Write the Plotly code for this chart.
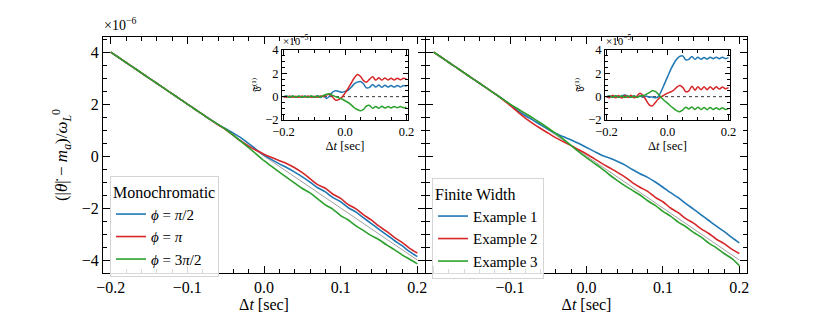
import plotly.graph_objects as go

# time grid (sec)
t = [round(-0.2 + 0.01 * i, 2) for i in range(41)]

# reference straight line
ref_t = [-0.2, 0.2]
ref_v = [4.0, -4.0]

# main panel values (x1e-6)
mono_blue = [4.0, 3.8, 3.6, 3.4, 3.2, 3.0, 2.8, 2.6, 2.4, 2.2, 2.0, 1.8, 1.6, 1.41, 1.22, 1.05, 0.88, 0.70, 0.48, 0.25,
             0.04, -0.14, -0.30, -0.45, -0.62, -0.80, -1.00, -1.22, -1.38, -1.60, -1.76, -1.99, -2.16, -2.38, -2.60,
             -2.82, -3.03, -3.25, -3.45, -3.68, -3.87]
mono_red = [4.0, 3.8, 3.6, 3.4, 3.2, 3.0, 2.8, 2.6, 2.4, 2.2, 2.0, 1.8, 1.6, 1.4, 1.2, 1.02, 0.80, 0.57, 0.38, 0.22,
            0.07, -0.06, -0.18, -0.30, -0.45, -0.64, -0.87, -1.10, -1.24, -1.47, -1.63, -1.87, -2.03, -2.26, -2.46,
            -2.70, -2.90, -3.13, -3.32, -3.55, -3.73]
mono_green = [4.0, 3.8, 3.6, 3.4, 3.2, 3.0, 2.8, 2.6, 2.4, 2.2, 2.0, 1.8, 1.6, 1.4, 1.22, 1.03, 0.80, 0.56, 0.32, 0.07,
              -0.18, -0.40, -0.62, -0.83, -1.04, -1.25, -1.42, -1.65, -1.88, -2.05, -2.29, -2.46, -2.69, -2.87, -3.06,
              -3.22, -3.42, -3.60, -3.80, -3.97, -4.15]
fw_blue = [4.0, 3.8, 3.6, 3.4, 3.2, 3.0, 2.8, 2.6, 2.4, 2.2, 1.98, 1.75, 1.55, 1.38, 1.2, 1.03, 0.87, 0.74, 0.62, 0.48,
           0.33, 0.18, 0.03, -0.08, -0.20, -0.34, -0.52, -0.68, -0.82, -1.00, -1.20, -1.41, -1.60, -1.83, -2.04,
           -2.26, -2.48, -2.70, -2.90, -3.13, -3.34]
fw_red = [4.0, 3.8, 3.6, 3.4, 3.2, 3.0, 2.8, 2.6, 2.4, 2.18, 1.95, 1.70, 1.46, 1.25, 1.06, 0.88, 0.70, 0.55, 0.40, 0.24,
          0.08, -0.10, -0.28, -0.45, -0.62, -0.80, -1.02, -1.20, -1.36, -1.59, -1.76, -2.00, -2.18, -2.41, -2.58,
          -2.80, -2.98, -3.20, -3.37, -3.58, -3.75]
fw_green = [4.0, 3.8, 3.6, 3.4, 3.2, 3.0, 2.8, 2.6, 2.4, 2.2, 2.0, 1.82, 1.64, 1.46, 1.27, 1.07, 0.86, 0.64, 0.40, 0.16,
            -0.06, -0.27, -0.48, -0.72, -0.94, -1.14, -1.32, -1.50, -1.72, -1.90, -2.13, -2.31, -2.54, -2.72, -2.94,
            -3.12, -3.35, -3.53, -3.75, -3.94, -4.22]

# inset values F^(1)
mono_blue_F = [0.0, 0.05, -0.04, 0.06, -0.05, 0.04, -0.06, 0.05, -0.04, 0.06, -0.05, 0.08, -0.08, 0.1, -0.15, 0.05,
               0.4, 0.5, 0.45, 0.38, 0.45, 0.55, 0.8, 1.1, 1.25, 1.3, 1.1, 0.75, 0.8, 1.05, 0.82, 1.0, 0.8, 0.98,
               0.82, 0.96, 0.82, 0.96, 0.83, 0.95, 0.88]
mono_red_F = [0.0, -0.04, 0.05, -0.05, 0.04, -0.05, 0.05, -0.04, 0.05, -0.05, 0.04, -0.06, 0.06, 0.0, 0.15, 0.2,
              -0.05, -0.3, -0.25, -0.05, 0.3, 0.7, 1.15, 1.6, 1.9, 1.75, 1.38, 1.25, 1.5, 1.7, 1.42, 1.62, 1.42, 1.6,
              1.43, 1.58, 1.43, 1.58, 1.45, 1.57, 1.5]
mono_green_F = [0.0, 0.04, -0.05, 0.05, -0.04, 0.05, -0.05, 0.04, -0.05, 0.05, -0.04, 0.06, -0.03, 0.1, 0.2, 0.25,
                0.1, 0.0, -0.1, -0.2, -0.35, -0.5, -0.7, -0.95, -1.1, -1.2, -1.1, -0.8, -0.75, -1.0, -0.85, -1.0,
                -0.82, -0.98, -0.84, -0.97, -0.84, -0.96, -0.85, -0.95, -0.9]
fw_blue_F = [0.0, 0.06, -0.05, 0.07, -0.04, 0.08, 0.15, 0.05, -0.06, 0.07, -0.05, 0.06, -0.06, 0.05, -0.05, -0.02,
             -0.1, 0.0, 0.5, 1.1, 1.7, 2.3, 2.8, 3.2, 3.45, 3.5, 3.15, 3.2, 3.45, 3.2, 3.38, 3.2, 3.36, 3.22, 3.38,
             3.25, 3.38, 3.25, 3.38, 3.26, 3.35]
fw_red_F = [0.0, -0.1, 0.12, -0.1, 0.1, -0.12, 0.1, -0.08, 0.12, -0.1, 0.05, 0.3, 0.1, -0.3, -0.7, -0.8, -0.5, -0.2,
            0.0, 0.15, 0.3, 0.4, 0.55, 0.8, 0.95, 0.8, 0.42, 0.5, 0.9, 0.55, 0.85, 0.6, 0.85, 0.6, 0.85, 0.62, 0.85,
            0.65, 0.82, 0.68, 0.78]
fw_green_F = [0.0, 0.05, -0.06, 0.07, -0.05, 0.06, -0.07, 0.05, -0.06, 0.06, -0.05, 0.05, 0.1, 0.2, 0.35, 0.5, 0.45,
              0.2, -0.1, -0.35, -0.55, -0.8, -1.0, -1.2, -1.3, -1.15, -0.9, -1.05, -0.88, -1.1, -0.9, -1.1, -0.92,
              -1.12, -0.92, -1.1, -0.95, -1.1, -0.95, -1.1, -1.0]

mono_names = ["<i>ϕ</i> = <i>π</i>/2", "<i>ϕ</i> = <i>π</i>", "<i>ϕ</i> = 3<i>π</i>/2"]
fw_names = ["Example 1", "Example 2", "Example 3"]
colors = ["#1f77b4", "#d62728", "#2ca02c"]

main_ticks = [-0.2, -0.1, 0.0, 0.1, 0.2]
left_ticktext = ["−0.2", "−0.1", "0.0", "0.1", "0.2"]
right_ticktext = ["", "−0.1", "0.0", "0.1", "0.2"]

FONT = "Times New Roman"
W, H = 830, 312
OFF = 8  # page body margin offset


def px_x(p):
    return (p - OFF) / W


def px_y(p):
    return 1 - (p - OFF) / H


fig = go.Figure()

# reference lines
for xa, ya in [("x", "y"), ("x2", "y2")]:
    fig.add_trace(go.Scatter(x=ref_t, y=ref_v, mode="lines", line=dict(color="#888888", width=0.8),
                             xaxis=xa, yaxis=ya, showlegend=False, hoverinfo="skip"))

for vals, name, c in zip([mono_blue, mono_red, mono_green], mono_names, colors):
    fig.add_trace(go.Scatter(x=t, y=vals, mode="lines", name=name,
                             line=dict(color=c, width=1.6, shape="spline", smoothing=0.8),
                             xaxis="x", yaxis="y", legend="legend"))
for vals, name, c in zip([fw_blue, fw_red, fw_green], fw_names, colors):
    fig.add_trace(go.Scatter(x=t, y=vals, mode="lines", name=name,
                             line=dict(color=c, width=1.6, shape="spline", smoothing=0.8),
                             xaxis="x2", yaxis="y2", legend="legend2"))

# insets
for xa, ya in [("x3", "y3"), ("x4", "y4")]:
    fig.add_trace(go.Scatter(x=[-0.205, 0.205], y=[0, 0], mode="lines",
                             line=dict(color="black", width=0.8, dash="dot"),
                             xaxis=xa, yaxis=ya, showlegend=False, hoverinfo="skip"))
for vals, c in zip([mono_blue_F, mono_red_F, mono_green_F], colors):
    fig.add_trace(go.Scatter(x=t, y=vals, mode="lines", line=dict(color=c, width=1.5, shape="spline", smoothing=0.8),
                             xaxis="x3", yaxis="y3", showlegend=False))
for vals, c in zip([fw_blue_F, fw_red_F, fw_green_F], colors):
    fig.add_trace(go.Scatter(x=t, y=vals, mode="lines", line=dict(color=c, width=1.5, shape="spline", smoothing=0.8),
                             xaxis="x4", yaxis="y4", showlegend=False))

tickfont = dict(family=FONT, size=16, color="black")
itickfont = dict(family=FONT, size=12.5, color="black")

main_x = dict(range=[-0.21, 0.21], tickvals=main_ticks, automargin=False,
              ticks="inside", ticklen=7, tickwidth=1, tickcolor="black",
              minor=dict(dtick=0.02, tick0=0, ticks="inside", ticklen=3.5, tickcolor="black", tickwidth=0.8),
              showline=True, linecolor="black", linewidth=1.2, mirror="ticks", showgrid=False, zeroline=False,
              tickfont=tickfont,
              title=dict(text="Δ<i>t</i> [sec]", font=dict(family=FONT, size=16, color="black"), standoff=2))
main_y = dict(range=[-4.5, 4.58], tickvals=[-4, -2, 0, 2, 4], automargin=False,
              ticks="inside", ticklen=7, tickwidth=1, tickcolor="black",
              minor=dict(dtick=0.5, tick0=0, ticks="inside", ticklen=3.5, tickcolor="black", tickwidth=0.8),
              showline=True, linecolor="black", linewidth=1.2, mirror="ticks", showgrid=False, zeroline=False,
              tickfont=tickfont, domain=[px_y(273), px_y(37)])

ins_x = dict(range=[-0.205, 0.205], tickvals=[-0.2, 0.0, 0.2], ticktext=["−0.2", "0.0", "0.2"], automargin=False,
             ticks="inside", ticklen=5, tickwidth=1, tickcolor="black",
             minor=dict(dtick=0.05, tick0=0, ticks="inside", ticklen=2.5, tickcolor="black", tickwidth=0.8),
             showline=True, linecolor="black", linewidth=1.1, mirror="ticks", showgrid=False, zeroline=False,
             tickfont=itickfont,
             title=dict(text="Δ<i>t</i> [sec]", font=dict(family=FONT, size=12.5, color="black"), standoff=1))
ins_y = dict(range=[-2, 4], tickvals=[-2, 0, 2, 4], automargin=False,
             ticks="inside", ticklen=5, tickwidth=1, tickcolor="black",
             minor=dict(dtick=0.5, tick0=0, ticks="inside", ticklen=2.5, tickcolor="black", tickwidth=0.8),
             showline=True, linecolor="black", linewidth=1.1, mirror="ticks", showgrid=False, zeroline=False,
             tickfont=itickfont, domain=[px_y(120), px_y(50)],
             title=dict(text="𝔉<sup>(1)</sup>", font=dict(family=FONT, size=10, color="black"), standoff=2))

legend_common = dict(bgcolor="rgba(255,255,255,0.85)", bordercolor="#d5d5d5", borderwidth=1,
                     font=dict(family=FONT, size=15, color="black"), xanchor="left", yanchor="top",
                     itemwidth=30, tracegroupgap=0)

fig.update_layout(
    width=W, height=H, margin=dict(l=0, r=0, t=0, b=0, autoexpand=False),
    paper_bgcolor="white", plot_bgcolor="white", hovermode=False,
    font=dict(family=FONT, color="black"),
    xaxis=dict(main_x, ticktext=left_ticktext, domain=[px_x(103), px_x(425)], anchor="y"),
    yaxis=dict(main_y, anchor="x",
               title=dict(text="(|<i>θ̇</i>| − <i>m</i><sub><i>a</i></sub>)/<i>ω</i><sub><i>L</i></sub><sup>0</sup>",
                          font=dict(family=FONT, size=17, color="black"), standoff=9)),
    xaxis2=dict(main_x, ticktext=right_ticktext, domain=[px_x(426), px_x(747)], anchor="y2"),
    yaxis2=dict(main_y, anchor="x2", matches="y", showticklabels=False),
    xaxis3=dict(ins_x, domain=[px_x(282), px_x(408)], anchor="y3"),
    yaxis3=dict(ins_y, anchor="x3"),
    xaxis4=dict(ins_x, domain=[px_x(605), px_x(730)], anchor="y4"),
    yaxis4=dict(ins_y, anchor="x4"),
    legend=dict(legend_common, x=px_x(110), y=px_y(176),
                title=dict(text="Monochromatic", font=dict(family=FONT, size=16, color="black"))),
    legend2=dict(legend_common, x=px_x(432), y=px_y(178),
                 title=dict(text="Finite Width", font=dict(family=FONT, size=16, color="black"))),
    annotations=[
        dict(text="×10<sup>−6</sup>", x=px_x(102), y=px_y(35), xref="paper", yref="paper",
             xanchor="left", yanchor="bottom", showarrow=False, font=dict(family=FONT, size=14, color="black")),
        dict(text="×10<sup>−5</sup>", x=px_x(281), y=px_y(49), xref="paper", yref="paper",
             xanchor="left", yanchor="bottom", showarrow=False, font=dict(family=FONT, size=11, color="black")),
        dict(text="×10<sup>−5</sup>", x=px_x(604), y=px_y(49), xref="paper", yref="paper",
             xanchor="left", yanchor="bottom", showarrow=False, font=dict(family=FONT, size=11, color="black")),
    ],
)

fig.write_html("out.html")
